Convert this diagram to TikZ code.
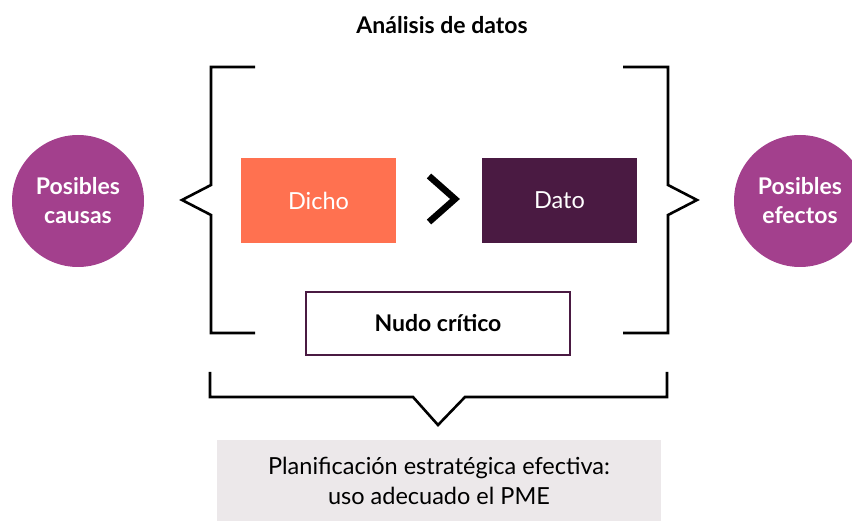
\documentclass[tikz,border=0pt]{standalone}
\usepackage{fontspec}
\setmainfont{Lato}
\definecolor{circ}{HTML}{A3408D}
\definecolor{dicho}{HTML}{FF7150}
\definecolor{dato}{HTML}{4A1A42}
\definecolor{greybox}{HTML}{ECE8EA}
\begin{document}
\begin{tikzpicture}[x=1pt,y=-1pt,
  brk/.style={line width=2.6pt, black, line join=miter},
  circnode/.style={circle, fill=circ, minimum size=132pt, inner sep=0pt, text=white,
    font=\fontsize{23}{29}\selectfont\bfseries, align=center},
  colbox/.style={rectangle, minimum width=155pt, minimum height=85pt, inner sep=0pt,
    text=white, font=\fontsize{23.5}{27}\selectfont},
  nudobox/.style={rectangle, draw=dato, line width=2pt, fill=white, minimum width=264pt,
    minimum height=63pt, font=\fontsize{23}{27}\selectfont\bfseries},
  planbox/.style={rectangle, fill=greybox, minimum width=444pt, minimum height=82pt,
    inner sep=0pt, align=center, font=\fontsize{23.5}{30}\selectfont},
  titlenode/.style={font=\fontsize{23}{27}\selectfont\bfseries}
]
\useasboundingbox (0,0) rectangle (852,521);
\clip (0,0) rectangle (852,521);

\node[titlenode] (titulo) at (442,25) {Análisis de datos};

\node[circnode] (causas) at (78,201) {Posibles\\causas};
\node[circnode] (efectos) at (800,201) {Posibles\\efectos};

\node[colbox, fill=dicho] (dicho) at (318.5,200.5) {Dicho};
\node[colbox, fill=dato] (dato) at (559.5,200.5) {Dato};

\draw[line width=6.5pt, line join=miter] (429,176) -- (455,199) -- (429,222);

\node[nudobox] (nudo) at (438,323.5) {Nudo crítico};

\node[planbox] (plan) at (439,481) {Planificación estratégica efectiva:\\uso adecuado el PME};

% left bracket
\draw[brk] (255,67) -- (211,67) -- (211,185) -- (182,200) -- (211,215) -- (211,333) -- (255,333);
% right bracket
\draw[brk] (623,67) -- (668,67) -- (668,185) -- (697,200) -- (668,215) -- (668,333) -- (623,333);
% bottom bracket
\draw[brk] (210,372) -- (210,397) -- (413,397) -- (438,425) -- (465,397) -- (667,397) -- (667,372);
\end{tikzpicture}
\end{document}
